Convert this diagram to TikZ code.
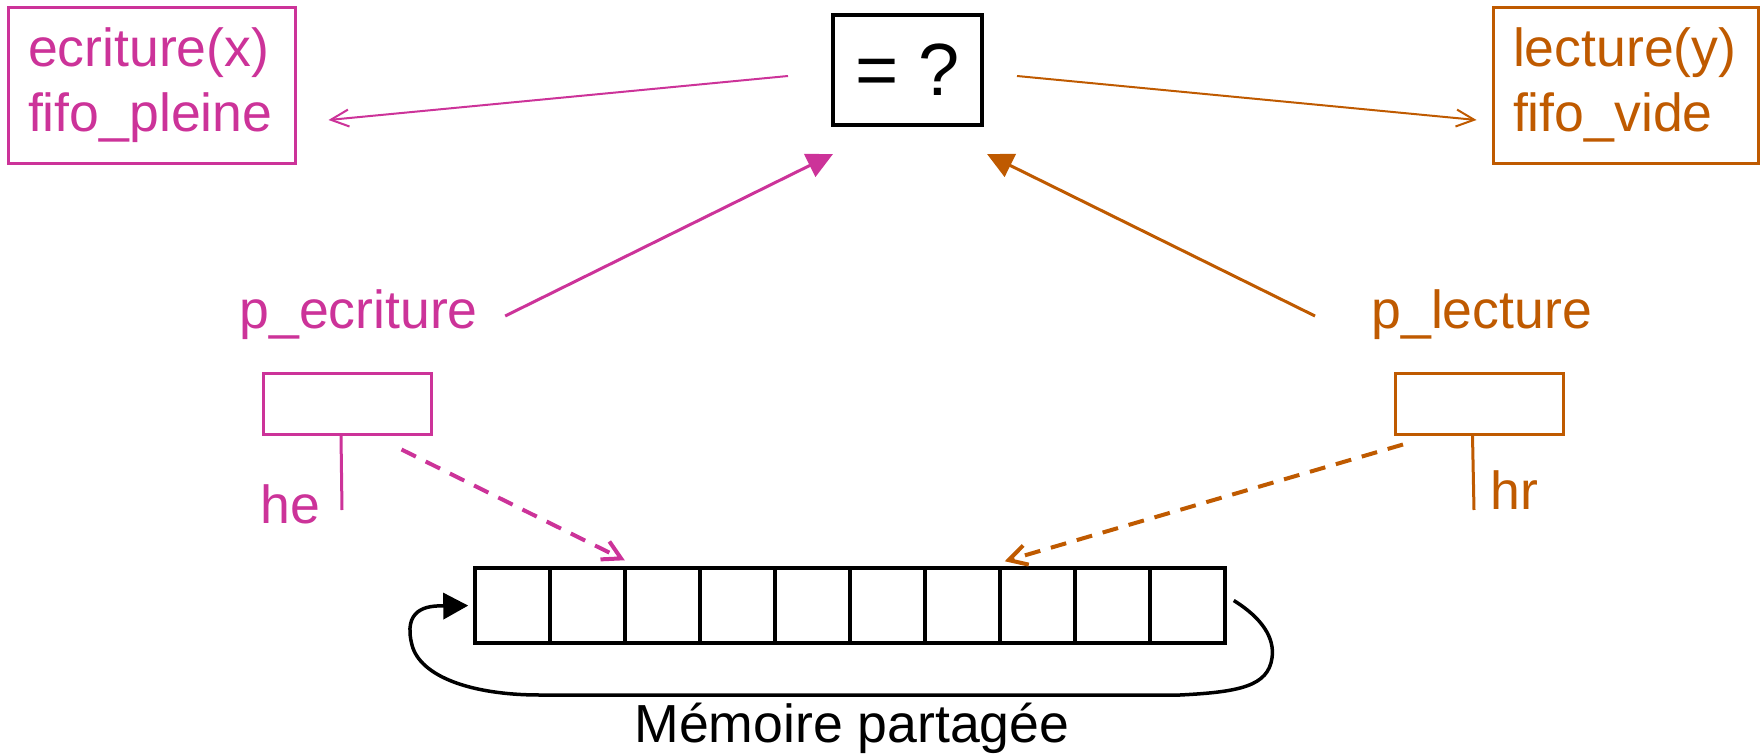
\documentclass[tikz,border=0pt]{standalone}
\usepackage{fontspec}
\setmainfont{Liberation Sans}
\usetikzlibrary{arrows.meta,calc}
\definecolor{pk}{RGB}{204,51,153}
\definecolor{og}{RGB}{191,90,0}
\begin{document}
\begin{tikzpicture}[x=0.5pt,y=-0.5pt,
  font=\fontsize{26.8}{32.5}\selectfont,
  lbl/.style={inner sep=0pt, anchor=base west},
  bigbox/.style={draw, line width=1.5pt, align=left, minimum height=78pt, inner ysep=0pt},
  smallbox/.style={draw, line width=1.5pt, minimum width=84pt, minimum height=30.5pt, inner sep=0pt},
  cell/.style={draw, line width=1.75pt, minimum width=37.5pt, minimum height=37.5pt, inner sep=0pt},
  thinarr/.style={line width=1pt, -{Straight Barb[length=9pt,width=8.5pt]}},
  solidarr/.style={line width=1.5pt, -{Triangle[length=13pt,width=12.5pt]}},
  dasharr/.style={line width=2pt, dash pattern=on 8pt off 5.5pt, -{Straight Barb[length=9pt,width=10pt]}},
  stemline/.style={line width=1.5pt},
  looparr/.style={line width=1.75pt, -{Triangle[length=12.5pt,width=13pt]}}
]
\useasboundingbox (0,0) rectangle (1763,755);

% top boxes
\node[bigbox, pk, inner xsep=10pt, text width=123.5pt] (lbox) at (151.5,85) {ecriture(x)\\fifo\_pleine};
\node[bigbox, og, inner xsep=10pt, text width=112.5pt] (rbox) at (1625.5,85) {lecture(y)\\fifo\_vide};
\node[draw, line width=2pt, minimum width=74.5pt, minimum height=55pt, inner sep=0pt,
      font=\fontsize{37}{40}\selectfont] (eq) at (907.5,70) {= ?};

% pointer labels
\node[lbl, pk] (pe) at (239,328) {p\_ecriture};
\node[lbl, og] (pl) at (1371,328) {p\_lecture};

% pointer boxes
\node[smallbox, pk] (pb) at (347,403.5) {};
\node[smallbox, og] (ob) at (1479.5,403.5) {};
\coordinate (pstem) at (342,510);
\coordinate (ostem) at (1474,510);
\draw[stemline, pk] ($(pb.south)+(-6,0)$) -- (pstem);
\draw[stemline, og] ($(ob.south)+(-7,0)$) -- (ostem);
\node[lbl, pk] (he) at (260,523) {he};
\node[lbl, og] (hr) at (1490,509) {hr};

% array
\foreach \k in {1,...,10} {
  \node[cell] (c\k) at ({437.5+75*\k},605.5) {};
}
\node[inner sep=0pt, anchor=base] (mem) at (852,742) {Mémoire partagée};

% arrows
\draw[thinarr, pk] ($(eq.west)+(-43,6)$) -- ($(lbox.east)+(32,35)$);
\draw[thinarr, og] ($(eq.east)+(33,6)$) -- ($(rbox.west)+(-15,35)$);
\draw[solidarr, pk] ($(pe.base east)+(27,-12)$) -- ($(eq.south west)+(2,27)$);
\draw[solidarr, og] ($(pl.base west)+(-56,-12)$) -- ($(eq.south east)+(3,27)$);
\draw[dasharr, pk] ($(pb.south east)+(-31,14)$) -- ($(c2.north east)+(-2,-6)$);
\draw[dasharr, og] ($(ob.south west)+(9,9)$) -- ($(c7.north east)+(3,-5)$);

% wrap-around loop
\draw[looparr, shorten >=2.5pt] ($(c10.east)+(7,-5)$)
  .. controls (1262,618) and (1275,638) .. (1272,658)
  .. controls (1268,686) and (1240,692) .. (1180,695)
  -- (540,695)
  .. controls (470,695) and (420,676) .. (412,645)
  .. controls (403,610) and (425,605) .. (445,606)
  -- (c1.west);
\end{tikzpicture}
\end{document}
